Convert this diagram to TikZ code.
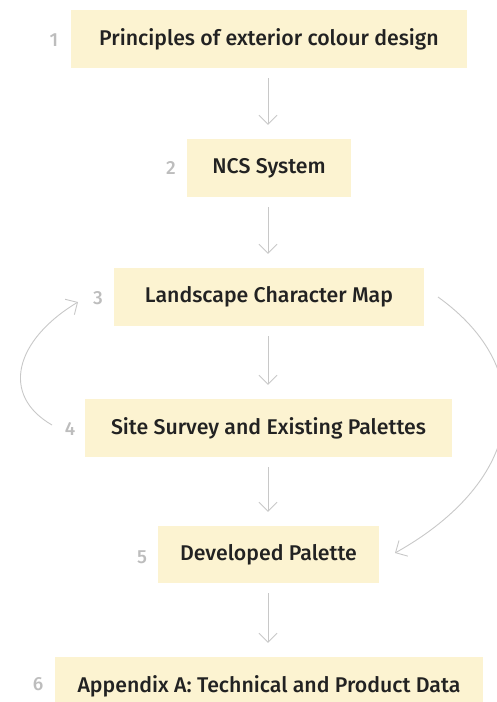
\documentclass[tikz,border=0pt]{standalone}
\usepackage{fontspec}
\setmainfont{Fira Sans}[BoldFont={Fira Sans Medium}]
\usetikzlibrary{arrows.meta}
\definecolor{boxfill}{HTML}{FCF3D1}
\definecolor{txt}{HTML}{222222}
\definecolor{numc}{HTML}{BDBDBD}
\definecolor{arr}{HTML}{C8C8C8}
\tikzset{
  stepbox/.style={rectangle, fill=boxfill, minimum height=58pt, inner sep=0pt, text=txt, font=\fontsize{21.3}{24}\selectfont\bfseries},
  numlabel/.style={text=numc, font=\fontsize{19}{21}\selectfont\bfseries, inner sep=0pt},
  flow/.style={draw=arr, line width=0.9pt, -{Straight Barb[length=9pt,width=18pt]}, shorten <=10pt, shorten >=14pt},
  loop/.style={draw=arr, line width=0.9pt, -{Straight Barb[length=9pt,width=18pt]}}
}
\begin{document}
\begin{tikzpicture}[x=1pt,y=-1pt]
\useasboundingbox (0,0) rectangle (497,702);
\clip (0,0) rectangle (497,702);
\node[stepbox, minimum width=396pt] (b1) at (269,39) {Principles of exterior colour design};
\node[stepbox, minimum width=164pt] (b2) at (269,168) {NCS System};
\node[stepbox, minimum width=310pt] (b3) at (269,297) {Landscape Character Map};
\node[stepbox, minimum width=367pt] (b4) at (268.5,428) {Site Survey and Existing Palettes};
\node[stepbox, minimum width=221pt, minimum height=57pt] (b5) at (268.5,554.5) {Developed Palette};
\node[stepbox, minimum width=428pt] (b6) at (269,686) {Appendix A: Technical and Product Data};
\node[numlabel] (n1) at (54,40) {1};
\node[numlabel] (n2) at (171,168) {2};
\node[numlabel] (n3) at (98,298) {3};
\node[numlabel] (n4) at (70,429) {4};
\node[numlabel] (n5) at (142,557) {5};
\node[numlabel] (n6) at (38,684) {6};
\draw[flow] (b1.south -| 268,0) -- (b2.north -| 268,0);
\draw[flow] (b2.south -| 268,0) -- (b3.north -| 268,0);
\draw[flow] (b3.south -| 268,0) -- (b4.north -| 268,0);
\draw[flow] (b4.south -| 268,0) -- (b5.north -| 268,0);
\draw[flow] (b5.south -| 268,0) -- (b6.north -| 268,0);
\coordinate (l1) at (52,425);
\coordinate (l2) at (78,302);
\coordinate (r1) at (438,297);
\coordinate (r2) at (395,553);
\draw[loop] (l1) .. controls (0,395) and (15,340) .. (l2);
\draw[loop] (r1) .. controls (540,370) and (525,480) .. (r2);
\end{tikzpicture}
\end{document}
